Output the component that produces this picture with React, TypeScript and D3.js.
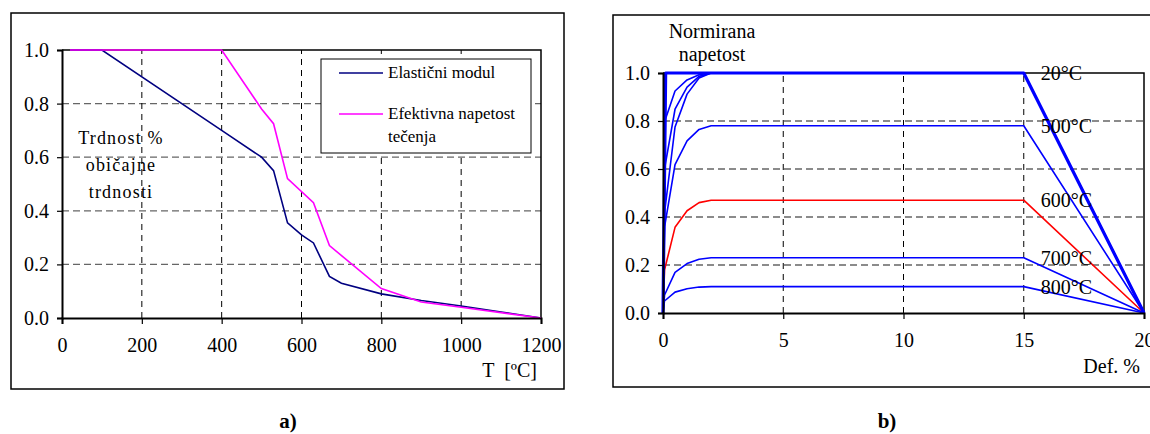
import React, { useRef, useEffect } from 'react';
import * as d3 from 'd3';

// chart a) - temperature reduction factors
const elasticTemp = [20, 100, 400, 500, 530, 565, 600, 630, 670, 700, 800, 900, 1000, 1100, 1200];
const elasticVal = [1, 1, 0.7, 0.6, 0.55, 0.355, 0.31, 0.28, 0.155, 0.13, 0.09, 0.065, 0.045, 0.0225, 0];
const yieldTemp = [20, 400, 500, 530, 565, 630, 670, 800, 900, 1000, 1200];
const yieldVal = [1, 1, 0.78, 0.725, 0.52, 0.43, 0.27, 0.11, 0.06, 0.04, 0];
const ticksA_x = [0, 200, 400, 600, 800, 1000, 1200];
const ticksA_y = [0, 0.2, 0.4, 0.6, 0.8, 1.0];

// chart b) - normalised stress vs strain [%]
const strain20 = [0, 0.11, 0.5, 1, 1.5, 2, 15, 20];
const stress20 = [0, 1, 1, 1, 1, 1, 1, 0];
const strain200 = [0, 0.1, 0.5, 1, 1.5, 2, 15, 20];
const stress200 = [0, 0.807, 0.925, 0.971, 0.993, 1, 1, 0];
const strain300 = [0, 0.086, 0.5, 1, 1.5, 2, 15, 20];
const stress300 = [0, 0.613, 0.849, 0.941, 0.986, 1, 1, 0];
const strain400 = [0, 0.067, 0.5, 1, 1.5, 2, 15, 20];
const stress400 = [0, 0.42, 0.775, 0.912, 0.979, 1, 1, 0];
const strain500 = [0, 0.067, 0.5, 1, 1.5, 2, 15, 20];
const stress500 = [0, 0.36, 0.618, 0.717, 0.765, 0.78, 0.78, 0];
const strain600 = [0, 0.065, 0.5, 1, 1.5, 2, 15, 20];
const stress600 = [0, 0.18, 0.357, 0.426, 0.46, 0.47, 0.47, 0];
const strain700 = [0, 0.065, 0.5, 1, 1.5, 2, 15, 20];
const stress700 = [0, 0.075, 0.169, 0.206, 0.224, 0.23, 0.23, 0];
const strain800 = [0, 0.062, 0.5, 1, 1.5, 2, 15, 20];
const stress800 = [0, 0.05, 0.087, 0.101, 0.108, 0.11, 0.11, 0];
const ticksB_x = [0, 5, 10, 15, 20];
const ticksB_y = [0, 0.2, 0.4, 0.6, 0.8, 1.0];

const FONT = '"Liberation Serif", "Times New Roman", serif';

const zip = (xs, ys) => xs.map((x, i) => ({ x, y: ys[i] }));

const App = () => {
  const ref = useRef(null);

  useEffect(() => {
    const svg = d3.select(ref.current);
    svg.selectAll('*').remove();

    const grid = (g, x, y, xt, yt) => {
      const [x0, x1] = x.range();
      const [y0, y1] = y.range();
      // horizontal grid
      g.selectAll('line.hg')
        .data(yt.filter(v => v > 0 && v < 1))
        .enter()
        .append('line')
        .attr('x1', x0)
        .attr('x2', x1)
        .attr('y1', d => y(d))
        .attr('y2', d => y(d))
        .attr('stroke', '#666')
        .attr('stroke-width', 1.3)
        .attr('stroke-dasharray', '7,4');
      // vertical grid
      g.selectAll('line.vg')
        .data(xt.slice(1, -1))
        .enter()
        .append('line')
        .attr('x1', d => x(d))
        .attr('x2', d => x(d))
        .attr('y1', y0)
        .attr('y2', y1)
        .attr('stroke', '#000')
        .attr('stroke-width', 1)
        .attr('stroke-dasharray', '6,5');
      // top + right borders
      g.append('path')
        .attr('d', `M${x0},${y1}H${x1}V${y0}`)
        .attr('fill', 'none')
        .attr('stroke', '#000')
        .attr('stroke-width', 1.5);
    };

    const axes = (g, x, y, xt, yt, xfmt) => {
      const [x0] = x.range();
      const [y0] = y.range();
      const ya = d3.axisLeft(y).tickValues(yt).tickSize(5).tickPadding(8).tickFormat(d3.format('.1f'));
      const xa = d3.axisBottom(x).tickValues(xt).tickSize(6).tickPadding(14).tickFormat(xfmt);
      const gy = g.append('g').attr('transform', `translate(${x0},0)`).call(ya);
      const gx = g.append('g').attr('transform', `translate(0,${y0})`).call(xa);
      [gx, gy].forEach(a => {
        a.select('.domain').attr('stroke', '#000').attr('stroke-width', 2);
        a.selectAll('.tick line').attr('stroke', '#000').attr('stroke-width', 1.2);
        a.selectAll('text')
          .attr('font-family', FONT)
          .attr('font-size', 20)
          .attr('fill', '#000');
      });
    };

    // ---------- chart a ----------
    const ga = svg.append('g');
    ga.append('rect')
      .attr('x', 11).attr('y', 13).attr('width', 553).attr('height', 376)
      .attr('fill', 'none').attr('stroke', '#000').attr('stroke-width', 1.5);

    const xA = d3.scaleLinear().domain([0, 1200]).range([62, 541]);
    const yA = d3.scaleLinear().domain([0, 1]).range([318, 50]);
    grid(ga, xA, yA, ticksA_x, ticksA_y);

    const lineA = d3.line().x(d => xA(d.x)).y(d => yA(d.y));
    ga.append('path')
      .attr('d', lineA(zip(elasticTemp, elasticVal)))
      .attr('fill', 'none').attr('stroke', '#000080').attr('stroke-width', 1.6);
    ga.append('path')
      .attr('d', lineA(zip(yieldTemp, yieldVal)))
      .attr('fill', 'none').attr('stroke', '#ff00ff').attr('stroke-width', 1.6);

    axes(ga, xA, yA, ticksA_x, ticksA_y, d3.format('d'));

    ga.append('text')
      .attr('x', 537).attr('y', 377).attr('text-anchor', 'end')
      .attr('font-family', FONT).attr('font-size', 20)
      .attr('xml:space', 'preserve')
      .text('T  [ºC]');

    ['Trdnost %', 'običajne', 'trdnosti'].forEach((t, i) => {
      ga.append('text')
        .attr('x', 121).attr('y', 144 + i * 27).attr('text-anchor', 'middle')
        .attr('font-family', FONT).attr('font-size', 18).attr('letter-spacing', 1.2)
        .text(t);
    });

    // legend
    const lg = ga.append('g');
    lg.append('rect')
      .attr('x', 321).attr('y', 59).attr('width', 210).attr('height', 94)
      .attr('fill', '#fff').attr('stroke', '#000').attr('stroke-width', 1);
    [
      { c: '#000080', y: 73, lines: ['Elastični modul'] },
      { c: '#ff00ff', y: 114, lines: ['Efektivna napetost', 'tečenja'] },
    ].forEach(e => {
      lg.append('line')
        .attr('x1', 339).attr('x2', 383).attr('y1', e.y).attr('y2', e.y)
        .attr('stroke', e.c).attr('stroke-width', 1.6);
      e.lines.forEach((t, i) => {
        lg.append('text')
          .attr('x', 388).attr('y', e.y + 5 + i * 23)
          .attr('font-family', FONT).attr('font-size', 17)
          .text(t);
      });
    });

    svg.append('text')
      .attr('x', 288).attr('y', 428).attr('text-anchor', 'middle')
      .attr('font-family', FONT).attr('font-size', 21).attr('font-weight', 'bold')
      .text('a)');

    // ---------- chart b ----------
    const gb = svg.append('g');
    gb.append('rect')
      .attr('x', 613).attr('y', 15).attr('width', 560).attr('height', 372)
      .attr('fill', 'none').attr('stroke', '#000').attr('stroke-width', 1.5);

    const xB = d3.scaleLinear().domain([0, 20]).range([663, 1144]);
    const yB = d3.scaleLinear().domain([0, 1]).range([313, 73]);
    grid(gb, xB, yB, ticksB_x, ticksB_y);

    const curves = [
      { label: null, c: '#0000ff', w: 1.6, xs: strain200, ys: stress200 },
      { label: null, c: '#0000ff', w: 1.6, xs: strain300, ys: stress300 },
      { label: null, c: '#0000ff', w: 1.6, xs: strain400, ys: stress400 },
      { label: '500°C', c: '#0000ff', w: 1.6, xs: strain500, ys: stress500 },
      { label: '600°C', c: '#ff0000', w: 1.6, xs: strain600, ys: stress600 },
      { label: '700°C', c: '#0000ff', w: 1.6, xs: strain700, ys: stress700 },
      { label: '800°C', c: '#0000ff', w: 1.6, xs: strain800, ys: stress800 },
      { label: '20°C', c: '#0000ff', w: 3.2, xs: strain20, ys: stress20 },
    ];
    const lineB = d3.line().x(d => xB(d.x)).y(d => yB(d.y));
    curves.forEach(cv => {
      gb.append('path')
        .attr('d', lineB(zip(cv.xs, cv.ys)))
        .attr('fill', 'none').attr('stroke', cv.c).attr('stroke-width', cv.w)
        .attr('stroke-linejoin', 'round');
    });

    axes(gb, xB, yB, ticksB_x, ticksB_y, d3.format('d'));

    curves.filter(cv => cv.label).forEach(cv => {
      gb.append('text')
        .attr('x', xB(15) + 17).attr('y', yB(cv.ys[6]) + 7)
        .attr('font-family', FONT).attr('font-size', 20)
        .text(cv.label);
    });

    gb.append('text')
      .attr('x', 1140).attr('y', 373).attr('text-anchor', 'end')
      .attr('font-family', FONT).attr('font-size', 20)
      .text('Def. %');
    ['Normirana', 'napetost'].forEach((t, i) => {
      gb.append('text')
        .attr('x', 712).attr('y', 38 + i * 23).attr('text-anchor', 'middle')
        .attr('font-family', FONT).attr('font-size', 20)
        .text(t);
    });

    svg.append('text')
      .attr('x', 887).attr('y', 428).attr('text-anchor', 'middle')
      .attr('font-family', FONT).attr('font-size', 21).attr('font-weight', 'bold')
      .text('b)');
  }, []);

  return (
    <svg
      ref={ref}
      width={1150}
      height={434}
      style={{ position: 'absolute', left: 0, top: 0, background: '#fff' }}
    />
  );
};

export default App;
